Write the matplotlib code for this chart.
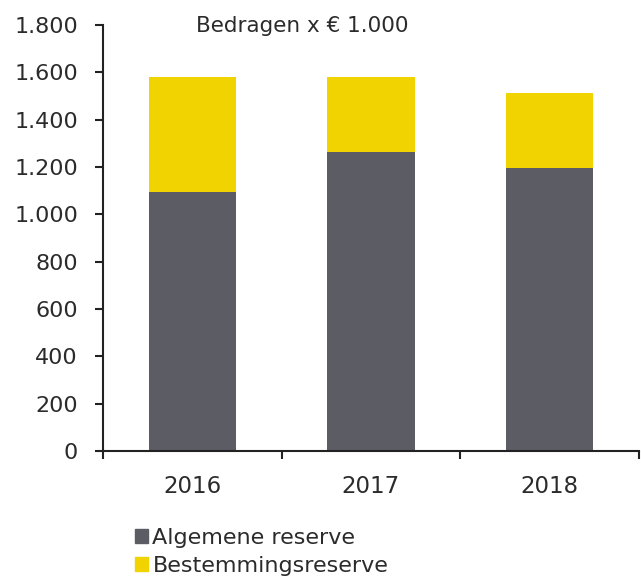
import matplotlib
matplotlib.use('Agg')
import matplotlib.pyplot as plt
import numpy as np
from matplotlib.ticker import FuncFormatter, FixedLocator
from matplotlib.patches import Patch

years = ['2016', '2017', '2018']
algemene = [1093, 1264, 1197]
bestemming = [486, 315, 316]
labels = ['Algemene reserve', 'Bestemmingsreserve']
grey = '#5c5d64'
yellow = '#f0d300'
txt = '#2b2b2b'

plt.rcParams['font.family'] = 'DejaVu Sans'

fig = plt.figure(figsize=(6.41, 5.76), dpi=100)
ax = fig.add_axes([0.1607, 0.217, 0.836, 0.7396])

x = np.arange(len(years))
ax.bar(x, algemene, 0.49, color=grey, label=labels[0])
ax.bar(x, bestemming, 0.49, bottom=algemene, color=yellow, label=labels[1])

ax.set_xlim(-0.5, 2.5)
ax.set_ylim(0, 1800)
ax.set_yticks(np.arange(0, 1801, 200))
ax.yaxis.set_major_formatter(FuncFormatter(lambda v, p: '{:,.0f}'.format(v).replace(',', '.')))

ax.set_xticks(x)
ax.set_xticklabels(years)
ax.xaxis.set_minor_locator(FixedLocator([-0.5, 0.5, 1.5, 2.5]))
ax.tick_params(axis='x', which='major', length=0, pad=17, labelsize=16.5, labelcolor=txt)
ax.tick_params(axis='x', which='minor', length=6, width=1.5, color='#222222')
ax.tick_params(axis='y', length=6, width=1.5, color='#222222', pad=12, labelsize=16, labelcolor=txt)

for s in ['top', 'right']:
    ax.spines[s].set_visible(False)
for s in ['left', 'bottom']:
    ax.spines[s].set_linewidth(1.5)
    ax.spines[s].set_color('#222222')

fig.text(302 / 641, 1 - 26 / 576, 'Bedragen x € 1.000', ha='center', va='center',
         fontsize=15.5, color=txt)

handles = [Patch(color=grey), Patch(color=yellow)]
fig.legend(handles, labels, loc='upper left', bbox_to_anchor=(0.21, 0.083),
           frameon=False, fontsize=16, handlelength=0.6, handleheight=0.6,
           handletextpad=0.2, labelspacing=0.35, borderaxespad=0, borderpad=0,
           labelcolor=txt)

plt.savefig('out.png', dpi=100)
